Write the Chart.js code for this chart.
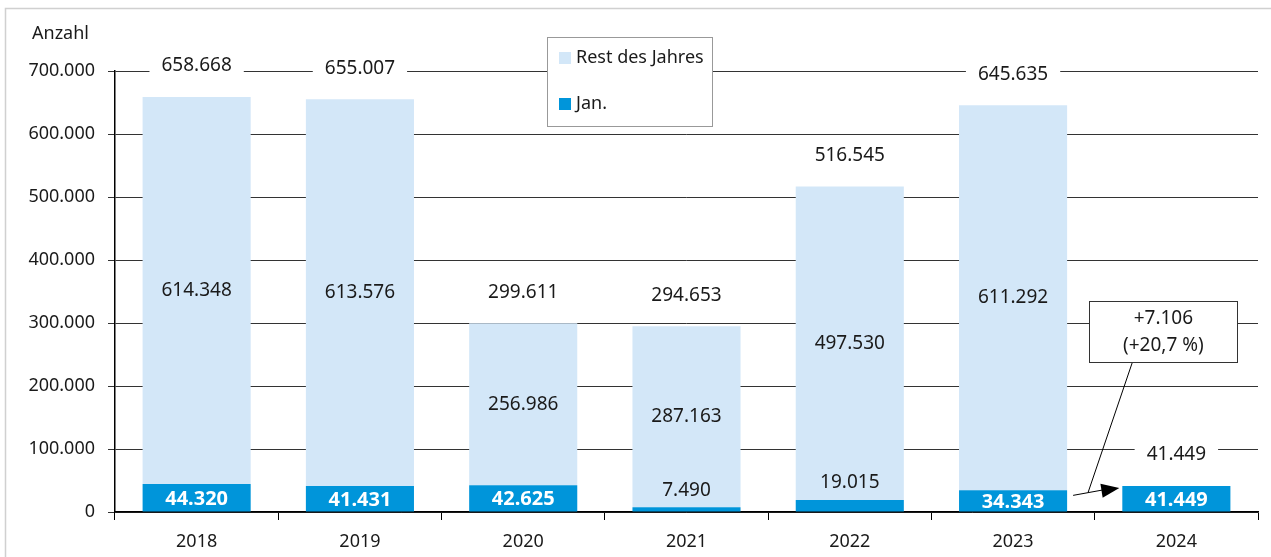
<!DOCTYPE html>
<html>
<head>
<meta charset="utf-8">
<script src="https://cdn.jsdelivr.net/npm/chart.js@4.4.1/dist/chart.umd.min.js"></script>
<style>
  html, body { margin: 0; padding: 0; background: #fff; }
  #wrap { width: 1271px; height: 557px; position: relative; }
</style>
</head>
<body>
<div id="wrap"><canvas id="chart" width="1271" height="557"></canvas></div>
<script>
// Daten
const years = ["2018", "2019", "2020", "2021", "2022", "2023", "2024"];
const janValues = [44320, 41431, 42625, 7490, 19015, 34343, 41449];
const restValues = [614348, 613576, 256986, 287163, 497530, 611292, null];
const totalValues = [658668, 655007, 299611, 294653, 516545, 645635, 41449];
const yTicks = [0, 100000, 200000, 300000, 400000, 500000, 600000, 700000];
const diffText = ["+7.106", "(+20,7 %)"];

const colJan = "#0095da";
const colRest = "#d3e7f8";
const textCol = "#1a1a1a";
const FONT = "'Noto Sans', sans-serif";

function fmt(v) {
  return String(v).replace(/\B(?=(\d{3})+(?!\d))/g, ".");
}

// Beschriftungen, Legende, Pfeil
const extras = {
  id: "extras",
  afterDatasetsDraw(chart) {
    const ctx = chart.ctx;
    const y = chart.scales.y;
    const janMeta = chart.getDatasetMeta(0);
    ctx.save();
    ctx.textAlign = "center";
    ctx.textBaseline = "middle";

    years.forEach((yr, i) => {
      const cx = janMeta.data[i].x;
      const janTop = y.getPixelForValue(janValues[i]);
      const zero = y.getPixelForValue(0);
      // Januar
      if (zero - janTop > 20) {
        ctx.font = "bold 20px " + FONT;
        ctx.fillStyle = "#fff";
        ctx.fillText(fmt(janValues[i]), cx, (janTop + zero) / 2 + 1);
      } else {
        ctx.font = "19px " + FONT;
        ctx.fillStyle = textCol;
        ctx.fillText(fmt(janValues[i]), cx, janTop - 17);
      }
      // Rest des Jahres
      if (restValues[i] != null) {
        const rTop = y.getPixelForValue(totalValues[i]);
        ctx.font = "19px " + FONT;
        ctx.fillStyle = textCol;
        ctx.fillText(fmt(restValues[i]), cx, (rTop + janTop) / 2);
      }
      // Summe oben, mit weissem Hintergrund
      const tTop = y.getPixelForValue(totalValues[i]) - 31;
      ctx.font = "19px " + FONT;
      const w = ctx.measureText(fmt(totalValues[i])).width;
      ctx.fillStyle = "#fff";
      ctx.fillRect(cx - w / 2 - 12, tTop - 11, w + 24, 22);
      ctx.fillStyle = textCol;
      ctx.fillText(fmt(totalValues[i]), cx, tTop);
    });

    // Pfeil 2023 -> 2024
    const b23 = janMeta.data[5], b24 = janMeta.data[6];
    const ax0 = b23.x + b23.width / 2 + 6;
    const ay0 = y.getPixelForValue(janValues[5]) + 5;
    const ax1 = b24.x - b24.width / 2 - 3;
    const ay1 = y.getPixelForValue(janValues[6]) + 2;
    ctx.strokeStyle = "#000";
    ctx.lineWidth = 1;
    ctx.beginPath();
    ctx.moveTo(ax0, ay0);
    ctx.lineTo(ax1 - 16, ay1 + 2);
    ctx.stroke();
    const ang = Math.atan2(ay1 - ay0, ax1 - ax0);
    ctx.fillStyle = "#000";
    ctx.beginPath();
    ctx.moveTo(ax1, ay1);
    ctx.lineTo(ax1 - 18 * Math.cos(ang) + 7 * Math.sin(ang), ay1 - 18 * Math.sin(ang) - 7 * Math.cos(ang));
    ctx.lineTo(ax1 - 18 * Math.cos(ang) - 7 * Math.sin(ang), ay1 - 18 * Math.sin(ang) + 7 * Math.cos(ang));
    ctx.closePath();
    ctx.fill();

    // Kasten mit Differenz
    const bx = b24.x - 13, by = y.getPixelForValue(286000);
    const bw = 148, bh = 61;
    const jx = ax0 + 15, jy = ay0 - 3;
    ctx.beginPath();
    ctx.moveTo(bx - 31, by + bh / 2);
    ctx.lineTo(jx, jy);
    ctx.stroke();
    ctx.fillStyle = "#fff";
    ctx.fillRect(bx - bw / 2, by - bh / 2, bw, bh);
    ctx.strokeStyle = "#333";
    ctx.strokeRect(Math.round(bx - bw / 2) + 0.5, Math.round(by - bh / 2) + 0.5, bw, bh);
    ctx.fillStyle = textCol;
    ctx.font = "19px " + FONT;
    ctx.fillText(diffText[0], bx, by - 13);
    ctx.fillText(diffText[1], bx, by + 14);

    // Legende
    const lx = 547, ly = 37, lw = 165, lh = 89;
    ctx.fillStyle = "#fff";
    ctx.fillRect(lx, ly, lw, lh);
    ctx.strokeStyle = "#999";
    ctx.strokeRect(lx + 0.5, ly + 0.5, lw, lh);
    ctx.textAlign = "left";
    ctx.font = "18px " + FONT;
    ctx.fillStyle = colRest;
    ctx.fillRect(559, 52, 12, 12);
    ctx.fillStyle = colJan;
    ctx.fillRect(559, 98, 12, 12);
    ctx.fillStyle = textCol;
    ctx.fillText("Rest des Jahres", 576, 58);
    ctx.fillText("Jan.", 576, 104);

    // Achsentitel
    ctx.fillText("Anzahl", 32, 34);

    // Rahmen
    ctx.strokeStyle = "#d0d0d0";
    ctx.lineWidth = 1.5;
    ctx.beginPath();
    ctx.moveTo(5.5, 560);
    ctx.lineTo(5.5, 8.5);
    ctx.lineTo(1275, 8.5);
    ctx.stroke();
    ctx.restore();
  }
};

new Chart(document.getElementById("chart"), {
  type: "bar",
  data: {
    labels: years,
    datasets: [
      { label: "Jan.", data: janValues, backgroundColor: colJan, borderWidth: 0 },
      { label: "Rest des Jahres", data: restValues, backgroundColor: colRest, borderWidth: 0 }
    ]
  },
  options: {
    responsive: false,
    animation: false,
    datasets: { bar: { barPercentage: 0.662, categoryPercentage: 1 } },
    layout: { padding: { left: 0, top: 71, right: 13, bottom: 0 } },
    plugins: { legend: { display: false }, tooltip: { enabled: false } },
    scales: {
      x: {
        stacked: true,
        grid: { drawOnChartArea: false, drawTicks: true, tickLength: 8, color: "#000", offset: true },
        border: { color: "#000", width: 1.5 },
        ticks: { color: textCol, font: { family: FONT, size: 18 }, padding: 11, maxRotation: 0 },
        afterFit: s => { s.height = 45; }
      },
      y: {
        stacked: true,
        min: 0,
        max: 700000,
        afterBuildTicks: s => { s.ticks = yTicks.map(v => ({ value: v })); },
        grid: { color: "#333", lineWidth: 1, tickLength: 7, drawTicks: true },
        border: { color: "#000", width: 1.5 },
        ticks: { color: textCol, font: { family: FONT, size: 18 }, padding: 13, callback: v => fmt(v) },
        afterFit: s => { s.width = 115; }
      }
    }
  },
  plugins: [extras]
});
</script>
</body>
</html>
